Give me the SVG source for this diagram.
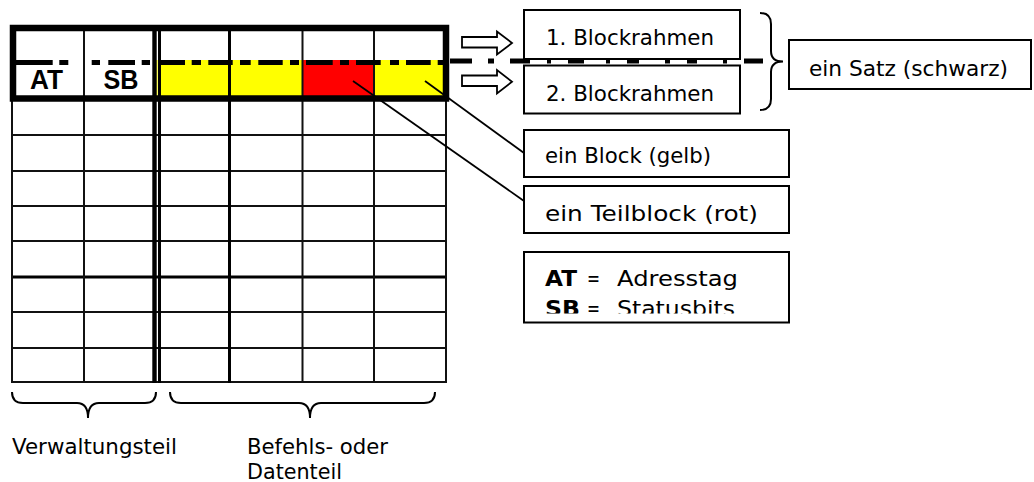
<svg xmlns="http://www.w3.org/2000/svg" width="1034" height="482" viewBox="0 0 1034 482">
  <defs>
    <style>
      .grid{fill:none;stroke:#111;stroke-width:2}
      .grid3{fill:none;stroke:#000;stroke-width:3}
      .box{fill:#fff;stroke:#000;stroke-width:2}
      .lbl{font-family:"DejaVu Sans",Verdana,sans-serif;font-size:21.5px;fill:#000}
      .lblb{font-family:"DejaVu Sans",Verdana,sans-serif;font-size:21.5px;font-weight:bold;fill:#000}
      .foot{font-family:"DejaVu Sans",Verdana,sans-serif;font-size:20.5px;fill:#000}
      .hdr{font-family:"Liberation Sans",Arial,sans-serif;font-size:27px;font-weight:bold;fill:#000}
      .dash{fill:none;stroke:#000;stroke-width:5}
      .brace{fill:none;stroke:#000;stroke-width:2}
      .arrow{fill:#fff;stroke:#000;stroke-width:1.8;stroke-linejoin:miter}
      .conn{stroke:#000;stroke-width:1.8}
    </style>
    <clipPath id="legendClip"><rect x="524" y="252" width="265" height="61.5"/></clipPath>
  </defs>

  <rect width="1034" height="482" fill="#fff"/>

  <!-- record table: header row with blocks, lower rows empty -->
  <g id="satz-tabelle">
    <rect x="160" y="60" width="284" height="36" fill="#ff0"/>
    <rect x="302" y="60" width="72" height="36" fill="#f00"/>
    <line x1="157" y1="60" x2="157" y2="100" stroke="#ff0" stroke-width="1.3"/>
    <path class="grid" d="M12 135H446M12 171H446M12 206H446M12 241H446M12 312H446M12 348H446M11 382H447"/>
    <path class="grid3" d="M12 277H446"/>
    <path class="grid" d="M12 98V383M84 28V383M302.5 28V383M374 28V383M446 98V383"/>
    <path class="grid3" d="M229.5 28V383"/>
    <line x1="154.5" y1="28" x2="154.5" y2="383" stroke="#000" stroke-width="4.4"/>
    <line x1="159.5" y1="28" x2="159.5" y2="383" stroke="#000" stroke-width="3"/>
    <text class="hdr" x="30" y="89" textLength="33" lengthAdjust="spacingAndGlyphs">AT</text>
    <text class="hdr" x="103.5" y="89" textLength="35" lengthAdjust="spacingAndGlyphs">SB</text>
  </g>

  <!-- record boundary (dash-dot line) -->
  <g id="satz-linie">
    <path class="dash" d="M16 62.5H52.7M59.3 62.5H68.3M91.7 62.5H100M108.3 62.5H135M141.7 62.5H150M161 62.5H185M191.7 62.5H201M208.3 62.5H232.7M240 62.5H250.7M258.3 62.5H282.7M290 62.5H299M306 62.5H332.7M340 62.5H349M356 62.5H380.7M390 62.5H399M406 62.5H430.7M437.7 62.5H443"/>
    <rect x="13" y="28" width="433" height="70.5" fill="none" stroke="#000" stroke-width="6.5"/>
  </g>

  <!-- block frames -->
  <g id="blockrahmen-1">
    <rect class="box" x="524" y="10" width="216" height="49"/>
    <text class="lbl" x="546" y="44.5" textLength="168" lengthAdjust="spacingAndGlyphs">1. Blockrahmen</text>
  </g>
  <g id="blockrahmen-2">
    <rect class="box" x="524" y="65.5" width="216" height="48"/>
    <text class="lbl" x="546" y="100.5" textLength="168" lengthAdjust="spacingAndGlyphs">2. Blockrahmen</text>
  </g>

  <g id="satz-linie-aussen">
    <path class="dash" d="M450 61H472M488 61H494M510 61H530M547 61H551M568 61H584M606 61H610M627 61H639M665 61H670M687 61H697M723 61H727M744 61H763"/>
  </g>

  <g id="satz-label">
    <rect class="box" x="789" y="40" width="242" height="49"/>
    <text class="lbl" x="809" y="75.5" textLength="199" lengthAdjust="spacingAndGlyphs">ein Satz (schwarz)</text>
  </g>

  <g id="block-label">
    <rect class="box" x="524" y="130" width="265" height="47"/>
    <text class="lbl" x="545" y="162.5" textLength="166" lengthAdjust="spacingAndGlyphs">ein Block (gelb)</text>
  </g>

  <g id="teilblock-label">
    <rect class="box" x="524" y="186" width="265" height="47"/>
    <text class="lbl" x="545" y="220.5" textLength="213" lengthAdjust="spacingAndGlyphs">ein Teilblock (rot)</text>
  </g>

  <g id="legende">
    <rect class="box" x="524" y="252" width="265" height="70.5"/>
    <g clip-path="url(#legendClip)">
      <text class="lblb" x="545" y="285.5" textLength="32" lengthAdjust="spacingAndGlyphs">AT</text>
      <text class="lbl" x="587" y="285.5" textLength="13" lengthAdjust="spacingAndGlyphs">=</text>
      <text class="lbl" x="617" y="285.5" textLength="121" lengthAdjust="spacingAndGlyphs">Adresstag</text>
      <text class="lblb" x="545" y="315.5" textLength="35" lengthAdjust="spacingAndGlyphs">SB</text>
      <text class="lbl" x="587" y="315.5" textLength="13" lengthAdjust="spacingAndGlyphs">=</text>
      <text class="lbl" x="617" y="315.5" textLength="118" lengthAdjust="spacingAndGlyphs">Statusbits</text>
    </g>
  </g>

  <g id="verwaltungsteil-label">
    <text class="foot" x="12" y="454" textLength="165" lengthAdjust="spacingAndGlyphs">Verwaltungsteil</text>
  </g>
  <g id="datenteil-label">
    <text class="foot" x="247" y="454" textLength="141" lengthAdjust="spacingAndGlyphs">Befehls- oder</text>
    <text class="foot" x="247" y="479" textLength="95" lengthAdjust="spacingAndGlyphs">Datenteil</text>
  </g>

  <!-- connectors: leader lines, block arrows, braces -->
  <g id="connectors">
    <line class="conn" x1="353" y1="81" x2="524" y2="201"/>
    <line class="conn" x1="425" y1="81" x2="524" y2="153"/>
    <polygon class="arrow" points="462,37 497,37 497,31.5 512,43 497,54.5 497,47.5 462,47.5"/>
    <polygon class="arrow" points="462,75.5 497,75.5 497,70 512,81.8 497,93.5 497,86 462,86"/>
    <path class="brace" d="M760 13Q771 13 771 24V51Q771 61.5 783 61.5Q771 61.5 771 72V99Q771 110 760 110"/>
    <path class="brace" d="M12 392Q12 403 23 403H77Q88 403 88 418Q88 403 99 403H145Q156 403 156 392"/>
    <path class="brace" d="M170 392Q170 403 181 403H299Q310 403 310 418Q310 403 321 403H424Q435 403 435 392"/>
  </g>
</svg>
